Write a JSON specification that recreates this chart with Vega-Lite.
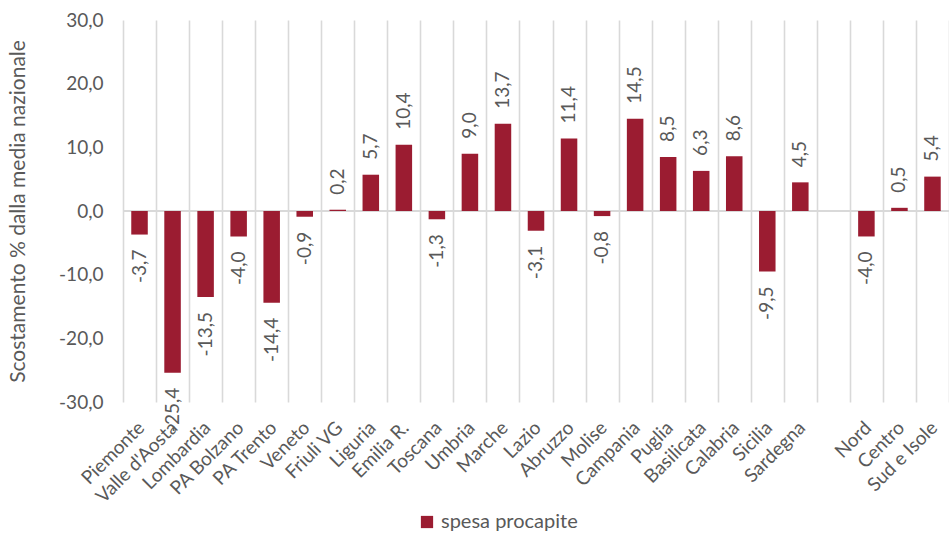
{
  "$schema": "https://vega.github.io/schema/vega-lite/v6.json",
  "width": 826,
  "height": 382,
  "autosize": {"type": "none"},
  "padding": {"left": 123, "top": 20, "right": 0, "bottom": 132},
  "background": "white",
  "config": {
    "locale": {"number": {"decimal": ",", "thousands": ".", "grouping": [3], "currency": ["€", ""], "minus": "-"}},
    "font": "Lato",
    "view": {"stroke": null}
  },
  "data": {
    "values": [
      {"regione": "Piemonte", "valore": -3.7, "serie": "spesa procapite"},
      {"regione": "Valle d'Aosta", "valore": -25.4, "serie": "spesa procapite"},
      {"regione": "Lombardia", "valore": -13.5, "serie": "spesa procapite"},
      {"regione": "PA Bolzano", "valore": -4.0, "serie": "spesa procapite"},
      {"regione": "PA Trento", "valore": -14.4, "serie": "spesa procapite"},
      {"regione": "Veneto", "valore": -0.9, "serie": "spesa procapite"},
      {"regione": "Friuli VG", "valore": 0.2, "serie": "spesa procapite"},
      {"regione": "Liguria", "valore": 5.7, "serie": "spesa procapite"},
      {"regione": "Emilia R.", "valore": 10.4, "serie": "spesa procapite"},
      {"regione": "Toscana", "valore": -1.3, "serie": "spesa procapite"},
      {"regione": "Umbria", "valore": 9.0, "serie": "spesa procapite"},
      {"regione": "Marche", "valore": 13.7, "serie": "spesa procapite"},
      {"regione": "Lazio", "valore": -3.1, "serie": "spesa procapite"},
      {"regione": "Abruzzo", "valore": 11.4, "serie": "spesa procapite"},
      {"regione": "Molise", "valore": -0.8, "serie": "spesa procapite"},
      {"regione": "Campania", "valore": 14.5, "serie": "spesa procapite"},
      {"regione": "Puglia", "valore": 8.5, "serie": "spesa procapite"},
      {"regione": "Basilicata", "valore": 6.3, "serie": "spesa procapite"},
      {"regione": "Calabria", "valore": 8.6, "serie": "spesa procapite"},
      {"regione": "Sicilia", "valore": -9.5, "serie": "spesa procapite"},
      {"regione": "Sardegna", "valore": 4.5, "serie": "spesa procapite"},
      {"regione": "Nord", "valore": -4.0, "serie": "spesa procapite"},
      {"regione": "Centro", "valore": 0.5, "serie": "spesa procapite"},
      {"regione": "Sud e Isole", "valore": 5.4, "serie": "spesa procapite"}
    ]
  },
  "encoding": {
    "x": {
      "field": "regione",
      "type": "nominal",
      "sort": null,
      "scale": {
        "domain": ["Piemonte", "Valle d'Aosta", "Lombardia", "PA Bolzano", "PA Trento", "Veneto", "Friuli VG", "Liguria", "Emilia R.", "Toscana", "Umbria", "Marche", "Lazio", "Abruzzo", "Molise", "Campania", "Puglia", "Basilicata", "Calabria", "Sicilia", "Sardegna", " ", "Nord", "Centro", "Sud e Isole"],
        "paddingInner": 0,
        "paddingOuter": 0
      },
      "axis": {
        "title": null,
        "domain": false,
        "ticks": false,
        "grid": true,
        "gridColor": "#D9D9D9",
        "gridWidth": 1.6,
        "tickBand": "extent",
        "labelAngle": -45,
        "labelFontSize": 19,
        "labelColor": "#595959",
        "labelPadding": 16,
        "labelOffset": -5
      }
    },
    "y": {
      "field": "valore",
      "type": "quantitative",
      "scale": {"domain": [-30, 30], "nice": false},
      "axis": {
        "title": "Scostamento % dalla media nazionale",
        "titleFontSize": 21,
        "titleFontWeight": "normal",
        "titleColor": "#595959",
        "titlePadding": 30,
        "format": ".1f",
        "values": [-30, -20, -10, 0, 10, 20, 30],
        "grid": false,
        "domain": false,
        "ticks": false,
        "labelFontSize": 19,
        "labelColor": "#595959",
        "labelPadding": 20
      }
    }
  },
  "layer": [
    {
      "mark": {"type": "rule", "color": "#D9D9D9", "strokeWidth": 1.6},
      "encoding": {"y": {"datum": 0}, "x": null}
    },
    {
      "mark": {"type": "bar", "width": {"band": 0.5}},
      "encoding": {
        "color": {
          "field": "serie",
          "type": "nominal",
          "scale": {"range": ["#9B1C31"]},
          "legend": {
            "orient": "none",
            "legendX": 294,
            "legendY": 492,
            "title": null,
            "symbolType": "square",
            "symbolSize": 150,
            "symbolStrokeWidth": 0,
            "labelFontSize": 20,
            "labelColor": "#595959"
          }
        }
      }
    },
    {
      "transform": [{"filter": "datum.valore >= 0"}],
      "mark": {"type": "text", "angle": 270, "align": "left", "baseline": "middle", "dx": 15, "fontSize": 19, "color": "#595959"},
      "encoding": {"text": {"field": "valore", "type": "quantitative", "format": ".1f"}}
    },
    {
      "transform": [{"filter": "datum.valore < 0"}],
      "mark": {"type": "text", "angle": 270, "align": "right", "baseline": "middle", "dx": -15, "fontSize": 19, "color": "#595959"},
      "encoding": {"text": {"field": "valore", "type": "quantitative", "format": ".1f"}}
    }
  ]
}
